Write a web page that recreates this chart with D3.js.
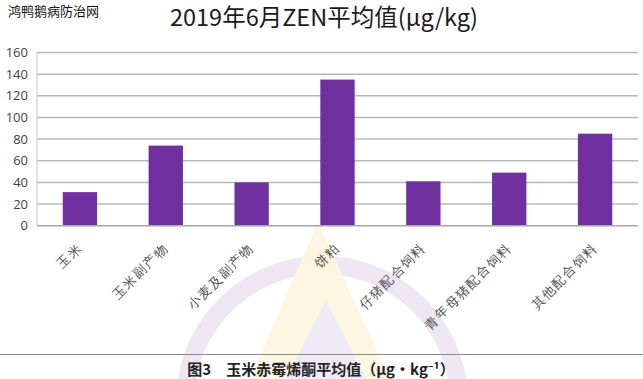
<!DOCTYPE html>
<html><head><meta charset="utf-8">
<script src="https://cdn.jsdelivr.net/npm/d3@7"></script>
<style>
html,body{margin:0;padding:0;background:#fff;}
svg{display:block;font-family:"Noto Sans CJK SC","Noto Sans",sans-serif;}
</style></head>
<body>
<svg id="c" width="643" height="379"></svg>
<script>
const categories = ["玉米","玉米副产物","小麦及副产物","饼粕","仔猪配合饲料","青年母猪配合饲料","其他配合饲料"];
const values = [31, 74, 40, 135, 41, 49, 85];
const yTicks = [0,20,40,60,80,100,120,140,160];
const chartTitle = "2019年6月ZEN平均值(μg/kg)";
const caption = "图3　玉米赤霉烯酮平均值（μg•kg⁻¹）";
const siteMark = "鸿鸭鹅病防治网";

const svg = d3.select("#c");
const W = 643, H = 379;
const m = {left:37, right:5, top:52.5, bottom:153.3};

// faint background watermark
const wm = svg.append("g");
wm.append("path")
  .attr("d", d3.arc()({innerRadius:128, outerRadius:146, startAngle:-Math.PI*0.62, endAngle:Math.PI*0.62}))
  .attr("transform","translate(322,402)")
  .attr("fill","#efe6f3");
wm.append("path").attr("d","M318,222 L250,379 L390,379 Z").attr("fill","#fdf7e1");
wm.append("path").attr("d","M326,300 L286,379 L366,379 Z").attr("fill","#f0e9f6");

const x = d3.scaleBand().domain(categories).range([m.left, W - m.right]).paddingInner(0.6).paddingOuter(0.3);
const y = d3.scaleLinear().domain([0,160]).range([H - m.bottom, m.top]);

// gridlines
svg.append("g").selectAll("line").data(yTicks.filter(d=>d>0)).join("line")
  .attr("x1", m.left).attr("x2", W - m.right)
  .attr("y1", d=>y(d)).attr("y2", d=>y(d))
  .attr("stroke","#b8b8b8").attr("stroke-width",1.5);

// left axis line
svg.append("line").attr("x1",m.left).attr("x2",m.left).attr("y1",y(160)).attr("y2",y(0))
  .attr("stroke","#c8c8c8").attr("stroke-width",1);

// y axis labels
const yAxis = d3.axisLeft(y).tickValues(yTicks).tickSize(0).tickPadding(9);
const ya = svg.append("g").attr("transform",`translate(${m.left},0)`).call(yAxis);
ya.select(".domain").remove();
ya.selectAll("text").attr("font-size",13).attr("fill","#404040")
  .attr("font-family","'Open Sans','Noto Sans',sans-serif");

// bars
svg.append("g").selectAll("rect").data(values).join("rect")
  .attr("x",(d,i)=>x(categories[i])).attr("width",x.bandwidth())
  .attr("y",d=>y(d)).attr("height",d=>y(0)-y(d))
  .attr("fill","#7030a0");

// bottom axis line
svg.append("line").attr("x1",m.left).attr("x2",W - m.right).attr("y1",y(0)).attr("y2",y(0))
  .attr("stroke","#a6a6a6").attr("stroke-width",1.5);

// x axis labels
const xAxis = d3.axisBottom(x).tickSize(0).tickPadding(0);
const xa = svg.append("g").attr("transform",`translate(0,${y(0)})`).call(xAxis);
xa.select(".domain").remove();
xa.selectAll("text")
  .attr("font-size",13).attr("fill","#505050").attr("letter-spacing","1.5px")
  .attr("text-anchor","end").attr("dy",0).attr("y",0)
  .attr("transform","translate(3,23) rotate(-45)");

// title
svg.append("text").attr("x",324).attr("y",26).attr("text-anchor","middle")
  .attr("font-size",23.5).attr("fill","#1a1a1a").text(chartTitle);

// site mark
svg.append("text").attr("x",8).attr("y",16).attr("font-size",13).attr("fill","#111").text(siteMark);

// separator and caption
svg.append("line").attr("x1",0).attr("x2",W).attr("y1",354.5).attr("y2",354.5)
  .attr("stroke","#8a8a8a").attr("stroke-width",1);
svg.append("text").attr("x",321).attr("y",375).attr("text-anchor","middle")
  .attr("font-size",15).attr("font-weight","bold").attr("fill","#222").text(caption);
</script>
</body></html>
